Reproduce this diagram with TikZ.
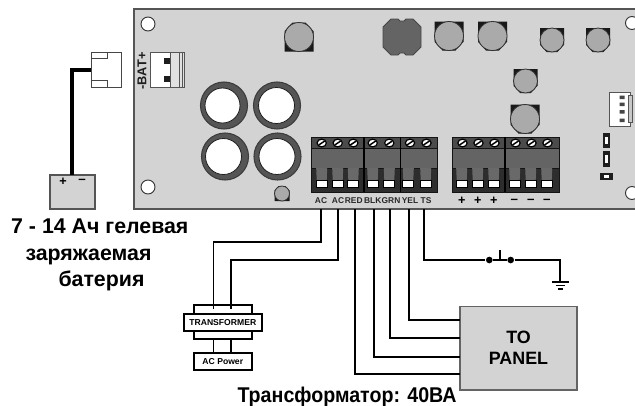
\documentclass[tikz,border=0pt]{standalone}
\usepackage{fontspec}
\setmainfont{Liberation Sans}

\tikzset{every picture/.style={line width=0.75pt}}
\tikzset{
  boardline/.style={draw={rgb, 255:red, 85; green, 85; blue, 85 },fill={rgb, 255:red, 211; green, 211; blue, 211 },line width=1.1pt},
  wire/.style={draw=black,line width=1.3pt},
  batwire/.style={draw=black,line width=3pt},
  whitebox/.style={draw=black,fill=white,line width=1.3pt,inner sep=0pt,font=\bfseries\fontsize{6.45}{7}\selectfont},
  termlabel/.style={inner sep=0.75pt,font=\bfseries\fontsize{6.3}{7}\selectfont,text={rgb, 255:red, 40; green, 40; blue, 40 }},
  capline/.style={anchor=base west,inner sep=0pt,font=\bfseries\fontsize{16}{18}\selectfont},
  capbase/.style={fill={rgb, 255:red, 25; green, 25; blue, 25 }},
  captop/.style={draw={rgb, 255:red, 50; green, 50; blue, 50 },fill={rgb, 255:red, 170; green, 170; blue, 170 },line width=0.6pt},
  bigring/.style={draw={rgb, 255:red, 60; green, 60; blue, 60 },fill={rgb, 255:red, 85; green, 85; blue, 85 },line width=0.8pt},
  ringhole/.style={draw={rgb, 255:red, 30; green, 30; blue, 30 },fill=white,line width=0.6pt},
  mounthole/.style={draw={rgb, 255:red, 50; green, 50; blue, 50 },fill=white,line width=0.7pt},
  thinpart/.style={draw={rgb, 255:red, 85; green, 85; blue, 85 },fill=white,line width=0.7pt},
  blockband/.style={fill={rgb, 255:red, 75; green, 75; blue, 75 }},
  blockmid/.style={fill={rgb, 255:red, 100; green, 100; blue, 100 }},
  blocklow/.style={fill={rgb, 255:red, 45; green, 45; blue, 45 }},
  blockline/.style={draw={rgb, 255:red, 20; green, 20; blue, 20 },line width=0.6pt},
  pinbody/.style={fill={rgb, 255:red, 105; green, 105; blue, 105 }},
  darkpart/.style={fill={rgb, 255:red, 30; green, 30; blue, 30 }}
}

\newcommand{\smdcap}[4]{%
\fill [capbase,shift={(#1,#2)},rotate=#4] (-#3,-#3) -- (#3,-#3) -- (#3,0.4*#3) -- (0.45*#3,#3) -- (-0.45*#3,#3) -- (-#3,0.4*#3) -- cycle ;
\draw [captop] (#1,#2) circle (#3) ;}

\newcommand{\termpin}[1]{%
\fill [pinbody] (#1-5.5,168) -- (#1+5.5,168) -- (#1+5,180) -- (#1-5,180) -- cycle ;
\draw [draw=black,fill=white,line width=1pt] (#1-5.5,180.5) rectangle (#1+5.5,187.5) ;}

\newcommand{\termscrew}[1]{%
\draw [draw=black,fill=white,line width=0.9pt] (#1,143) ellipse (4.6 and 3.9) ;
\draw [draw=black,line width=1.1pt] (#1-3,145) -- (#1+3,141) ;}

\begin{document}
\begin{tikzpicture}[x=0.75pt,y=0.75pt,yscale=-1,xscale=1]
\useasboundingbox (0,0) rectangle (635,405);
\clip (0,0) rectangle (635,405);

%Shape: Board
\draw [boardline] (134,9) rectangle (645,209) ;
%Shape: Mounting Holes
\draw [mounthole] (148,24) circle (7) ;
\draw [mounthole] (148,187) circle (7) ;
\draw [mounthole] (632,23) circle (6.5) ;
\draw [mounthole] (632,193) circle (6.5) ;

%Shape: Battery Socket
\draw [thinpart] (150,52) rectangle (184,87) ;
\fill [fill={rgb, 255:red, 225; green, 225; blue, 225 }] (170,52) rectangle (184,87) ;
\draw [draw={rgb, 255:red, 85; green, 85; blue, 85 },line width=0.7pt] (150,52) rectangle (184,87) (170,52) -- (170,87) (179,52) -- (179,87) (182,52) -- (182,87) ;
\fill [darkpart] (164,58) rectangle (170,64) ;
\fill [darkpart] (164,76) rectangle (170,82) ;

%Shape: Large Capacitors
\draw [bigring] (224,105.5) circle (23.5) ;
\draw [ringhole] (222.5,105.5) circle (17.5) ;
\draw [bigring] (277,105.5) circle (23.5) ;
\draw [ringhole] (276.5,105.5) circle (18) ;
\draw [bigring] (225,156.5) circle (23.5) ;
\draw [ringhole] (223.5,156.5) circle (18) ;
\draw [bigring] (277.5,156.5) circle (23.5) ;
\draw [ringhole] (277,156.5) circle (18) ;

%Shape: Small Capacitors
\smdcap{299}{37}{14.5}{180}
\smdcap{449}{36}{14.5}{0}
\smdcap{492.5}{36}{14.5}{0}
\smdcap{552}{40}{12}{0}
\smdcap{598}{40}{12}{0}
\smdcap{525.5}{81}{12}{0}
\smdcap{525}{119}{14.5}{0}
\smdcap{282}{193.5}{7.5}{180}
%Shape: Inductor
\draw [draw={rgb, 255:red, 70; green, 70; blue, 70 },fill={rgb, 255:red, 100; green, 100; blue, 100 },line width=0.7pt] (391,19) -- (398,19) -- (400,21) -- (404,21) -- (406,19) -- (413,19) -- (421,27) -- (421,47) -- (413,55) -- (406,55) -- (404,53) -- (400,53) -- (398,55) -- (391,55) -- (383,47) -- (383,27) -- cycle ;

%Shape: Header Connector
\draw [thinpart] (609,92) rectangle (630,126) ;
\draw [draw={rgb, 255:red, 85; green, 85; blue, 85 },fill={rgb, 255:red, 200; green, 200; blue, 200 },line width=0.6pt] (628,95) rectangle (632,122) ;
\fill [fill={rgb, 255:red, 70; green, 70; blue, 70 }] (619.5,95.5) rectangle (624.5,99) (619.5,102.5) rectangle (624.5,106) (619.5,110) rectangle (624.5,113.5) (619.5,118.5) rectangle (624.5,122) ;

%Shape: Small Parts
\fill [darkpart] (603,133) rectangle (610,148) ;
\fill [white] (605,137) rectangle (608,144) ;
\fill [darkpart] (603,151) rectangle (610,167) ;
\fill [white] (605,155) rectangle (608,163) ;
\fill [darkpart] (600,173) rectangle (613,180) ;
\fill [white] (604,175) rectangle (609,178) ;

%Shape: Terminal Blocks
\fill [blockband] (311,137) rectangle (437,148) ;
\fill [blockmid] (311,148) rectangle (437,168) ;
\fill [blocklow] (311,168) rectangle (437,192) ;
\fill [blockband] (452,137) rectangle (559,148) ;
\fill [blockmid] (452,148) rectangle (559,168) ;
\fill [blocklow] (452,168) rectangle (559,192) ;
\draw [blockline] (311,137) rectangle (437,192) (311,148) -- (437,148) (311,168) -- (437,168) ;
\draw [blockline] (452,137) rectangle (559,192) (452,148) -- (559,148) (452,168) -- (559,168) ;
\draw [draw=black,line width=0.9pt] (364,137) -- (364,192) (400.5,137) -- (400.5,192) (505,137) -- (505,192) ;

\termpin{321.7}\termpin{337.7}\termpin{353.3}\termpin{372.7}\termpin{389.3}\termpin{408.3}\termpin{425.7}
\termpin{461.7}\termpin{477.7}\termpin{493.7}\termpin{514.7}\termpin{530.7}\termpin{546.7}
\termscrew{321.7}\termscrew{337.7}\termscrew{353.3}\termscrew{372.7}\termscrew{389.3}\termscrew{410}\termscrew{426.5}
\termscrew{462.5}\termscrew{478.5}\termscrew{494.5}\termscrew{515.5}\termscrew{531.5}\termscrew{547.5}

% Text Node
\node (batlabel) [inner sep=0pt,rotate=90,font=\bfseries\fontsize{9.6}{10}\selectfont,text={rgb, 255:red, 30; green, 30; blue, 30 }] at (142,71) {-BAT+};
% Text Node
\node (acone) [termlabel] at (321,201) {AC};
\node (actwo) [termlabel] at (338,201) {AC};
\node (redlabel) [termlabel] at (353.7,201) {RED};
\node (blklabel) [termlabel] at (372.7,201) {BLK};
\node (grnlabel) [termlabel] at (391,201) {GRN};
\node (yellabel) [termlabel] at (410,201) {YEL};
\node (tslabel) [termlabel] at (426,201) {TS};
% Text Node
\node (plusa) [inner sep=0pt,font=\bfseries\fontsize{9.5}{10}\selectfont] at (461.7,200.5) {+};
\node (plusb) [inner sep=0pt,font=\bfseries\fontsize{9.5}{10}\selectfont] at (477.7,200.5) {+};
\node (plusc) [inner sep=0pt,font=\bfseries\fontsize{9.5}{10}\selectfont] at (493.7,200.5) {+};
\node (minusa) [inner sep=0pt,font=\bfseries\fontsize{10}{10}\selectfont] at (514.3,201) {–};
\node (minusb) [inner sep=0pt,font=\bfseries\fontsize{10}{10}\selectfont] at (530.7,201) {–};
\node (minusc) [inner sep=0pt,font=\bfseries\fontsize{10}{10}\selectfont] at (546.7,201) {–};

%Shape: Battery
\node (battery) [draw={rgb, 255:red, 85; green, 85; blue, 85 },fill={rgb, 255:red, 211; green, 211; blue, 211 },line width=0.9pt,minimum width=33.75pt,minimum height=25.5pt,inner sep=0pt] at (72.5,192) {};
\node (batplus) [inner sep=0pt,font=\bfseries\fontsize{9.5}{10}\selectfont] at (63,182) {+};
\node (batminus) [inner sep=0pt,font=\bfseries\fontsize{10}{10}\selectfont] at (82,181) {–};

%Shape: Battery Plug
\node (plug) [draw={rgb, 255:red, 70; green, 70; blue, 70 },fill=white,line width=0.7pt,minimum width=22.5pt,minimum height=26.25pt,inner sep=0pt] at (106,69.5) {};
\draw [draw={rgb, 255:red, 70; green, 70; blue, 70 },line width=0.7pt] (plug.north west) ++(0,7) -- ++(17,0) -- ++(0,-7) ;
\draw [draw={rgb, 255:red, 70; green, 70; blue, 70 },line width=0.7pt] (plug.south west) ++(0,-7) -- ++(17,0) -- ++(0,7) ;
%Straight Lines
\coordinate (batbend) at (71.5,69.5);
\coordinate (battop) at (71.5,175);
\draw [batwire] (plug.west) -- (batbend) -- (battop) ;

%Straight Lines
\coordinate (acwirea) at (321.3,209);
\coordinate (acwireb) at (338.3,209);
\coordinate (redwire) at (355,209);
\coordinate (blkwire) at (373.7,209);
\coordinate (grnwire) at (390.3,209);
\coordinate (yelwire) at (409.3,209);
\coordinate (tswire) at (424,209);

% Transformer
\node (trafobody) [whitebox,minimum width=43.3pt,minimum height=25.7pt] at (222.8,322.2) {};
\node (trafo) [whitebox,minimum width=58.3pt,minimum height=12.75pt] at (222.8,322.2) {TRANSFORMER};
\node (acpower) [whitebox,minimum width=43.3pt,minimum height=12.75pt] at (222.8,361.8) {AC Power};
\coordinate (trafoina) at (213.5,309);
\coordinate (trafoinb) at (231,309);
\coordinate (trafoouta) at (213.5,339.3);
\coordinate (trafooutb) at (231,339.3);
\coordinate (powera) at (213.5,353.3);
\coordinate (powerb) at (231,353.3);
\coordinate (acbenda) at (213.5,242);
\coordinate (acbendb) at (231,260);
\draw [wire] (acwirea) |- (acbenda) -- (trafoina) ;
\draw [wire] (acwireb) |- (acbendb) -- (trafoinb) ;
\draw [wire] (trafoouta) -- (powera) ;
\draw [wire] (trafooutb) -- (powerb) ;

% Panel
\node (panel) [draw={rgb, 255:red, 100; green, 100; blue, 100 },fill={rgb, 255:red, 211; green, 211; blue, 211 },line width=0.9pt,minimum width=87.75pt,minimum height=62.6pt,inner sep=0pt,align=center,font=\bfseries\fontsize{13.4}{15.8}\selectfont] at (518.5,348.2) {TO\\PANEL};
\coordinate (panelyel) at (460,320.3);
\coordinate (panelgrn) at (460,338.3);
\coordinate (panelblk) at (460,356.7);
\coordinate (panelred) at (460,374.3);
\draw [wire] (yelwire) |- (panelyel) ;
\draw [wire] (grnwire) |- (panelgrn) ;
\draw [wire] (blkwire) |- (panelblk) ;
\draw [wire] (redwire) |- (panelred) ;

% Switch and ground
\node (swa) [circle,fill=black,inner sep=0pt,minimum size=5pt] at (489.3,260) {};
\node (swb) [circle,fill=black,inner sep=0pt,minimum size=5pt] at (510.7,260) {};
\coordinate (swtop) at (500,250);
\coordinate (swbase) at (500,260);
\coordinate (gndtop) at (560.3,281.7);
\coordinate (gndbend) at (560.3,260);
\draw [wire] (tswire) |- (swa) ;
\draw [wire] (swa) -- (swb) ;
\draw [wire] (swb) -- (gndbend) -- (gndtop) ;
\draw [draw=black,line width=1pt] (swtop) -- (swbase) ;
\draw [wire] (552,281.7) -- (569,281.7) ;
\draw [wire] (556,285.4) -- (565,285.4) ;
\draw [wire] (558,289) -- (563,289) ;

% Text Node
\node (capone) [capline] at (10.7,233) {7 - 14 Ач гелевая};
\node (captwo) [capline] at (25,260.7) {заряжаемая};
\node (capthree) [capline] at (58,286.7) {батерия};
\node (capfour) [capline,font=\bfseries\fontsize{16}{18}\selectfont\addfontfeatures{FakeStretch=0.92}] at (237,402) {Трансформатор: 40ВА};

\end{tikzpicture}
\end{document}
